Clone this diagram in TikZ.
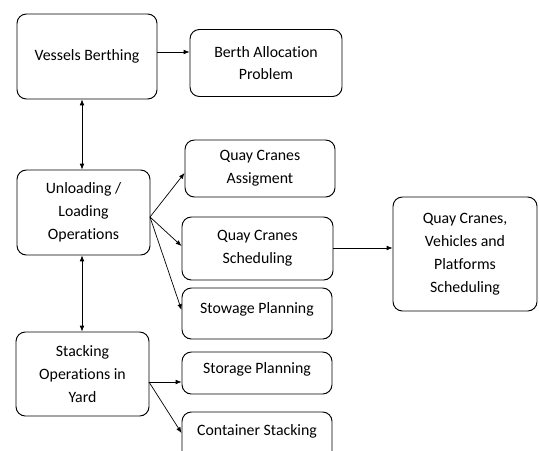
\documentclass[tikz,border=0pt]{standalone}
\usepackage{fontspec}
\setmainfont[Ligatures=NoCommon]{Carlito}
\usepackage{tikz}
\usetikzlibrary{arrows.meta}

\begin{document}
\begin{tikzpicture}[x=0.03cm,y=-0.03cm,
          every node/.style={font=\fontsize{13.5}{19.5}\selectfont,align=center},
          blk/.style={draw,rounded corners=8pt,line width=0.8pt,inner sep=2pt},
          lnk/.style={-{Latex[length=5pt,width=4pt]},line width=0.6pt},
          dbl/.style={{Latex[length=5pt,width=4pt]}-{Latex[length=5pt,width=4pt]},line width=0.6pt}]
        \clip (0,0) rectangle (539,450);
        % left column
        \node[blk,minimum width=140*0.03cm,minimum height=85*0.03cm] (vb) at (87,56.5) {Vessels Berthing};
        \node[blk,minimum width=133*0.03cm,minimum height=85*0.03cm] (ulo) at (83.5,212.5) {Unloading /\\Loading\\Operations};
        \node[blk,minimum width=133*0.03cm,minimum height=84*0.03cm] (stk) at (82.5,374) {Stacking\\Operations in\\Yard};
        % sub problems
        \node[blk,minimum width=152*0.03cm,minimum height=67*0.03cm] (bap) at (266,63) {Berth Allocation\\Problem};
        \node[blk,minimum width=150*0.03cm,minimum height=57*0.03cm] (qca) at (260,168.5) {Quay Cranes\\Assigment};
        \node[blk,minimum width=151*0.03cm,minimum height=63*0.03cm] (qcs) at (257.5,248.5) {Quay Cranes\\Scheduling};
        \node[blk,minimum width=150*0.03cm,minimum height=51*0.03cm,text depth=10pt] (stw) at (257,313.5) {Stowage Planning};
        \node[blk,minimum width=150*0.03cm,minimum height=42*0.03cm,text depth=8pt] (sto) at (257,373) {Storage Planning};
        \node[blk,minimum width=150*0.03cm,minimum height=60*0.03cm,text depth=20pt] (cst) at (257,442) {Container Stacking};
        \node[blk,minimum width=144*0.03cm,minimum height=114*0.03cm] (qvp) at (465,254) {Quay Cranes,\\Vehicles and\\Platforms\\Scheduling};
        % connectors
        \coordinate (uo) at (150,217);
        \coordinate (so) at (149,382);
        \draw[lnk] (vb.east|-0,52) -- (bap.west|-0,52);
        \draw[dbl] (vb.south-|82,0) -- (ulo.north-|82,0);
        \draw[dbl] (ulo.south-|82,0) -- (stk.north-|82,0);
        \foreach \t/\y in {qca/173,qcs/246,stw/310}
          \draw[lnk] (uo) -- (\t.west|-0,\y);
        \draw[lnk] (so) -- (sto.west|-so);
        \draw[lnk] (so) -- (cst.west|-0,433);
        \draw[lnk] (qcs.east|-0,248) -- (qvp.west|-0,248);
      \end{tikzpicture}
\end{document}
